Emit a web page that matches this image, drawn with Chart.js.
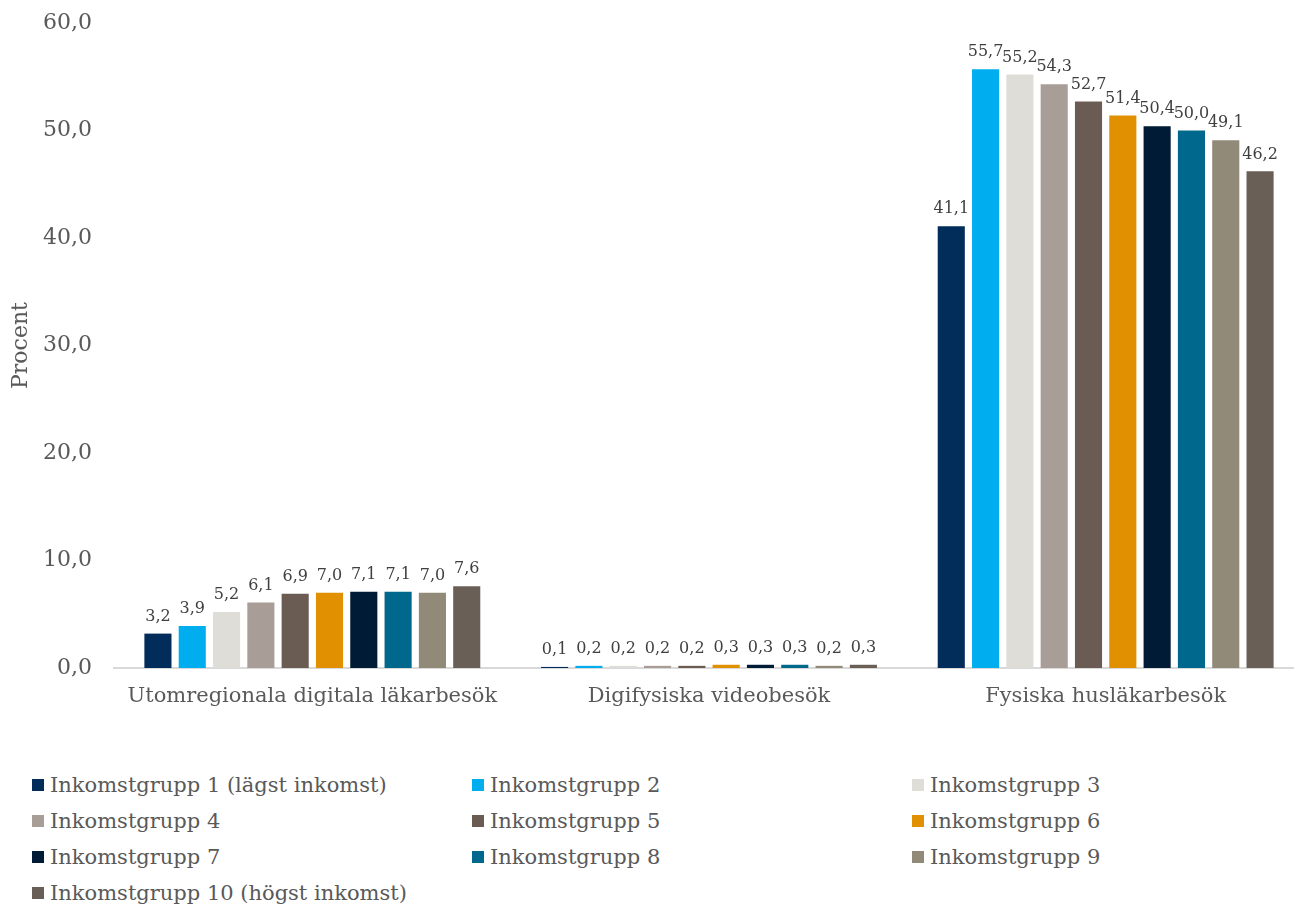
<!DOCTYPE html>
<html lang="sv">
<head>
<meta charset="utf-8">
<title>Läkarbesök per inkomstgrupp</title>
<script src="https://cdn.jsdelivr.net/npm/chart.js@4.4.1/dist/chart.umd.min.js"></script>
<style>
  html, body { margin: 0; padding: 0; background: #fff; overflow: hidden; }
  #wrap { position: relative; width: 1294px; height: 904px; overflow: hidden; }
  canvas { display: block; }
  #legend {
    position: absolute; left: 32px; top: 767px;
    display: grid; grid-template-columns: 440px 440px 440px;
    font-family: "DejaVu Serif", Georgia, serif; font-size: 21px; color: #595959;
  }
  #legend .item { height: 36px; display: flex; align-items: center; white-space: nowrap; }
  #legend .box { width: 12px; height: 12px; margin-right: 6px; flex: none; }
</style>
</head>
<body>
<div id="wrap">
  <canvas id="chart" width="1310" height="720"></canvas>
  <div id="legend"></div>
</div>
<script>
const categories = ['Utomregionala digitala läkarbesök', 'Digifysiska videobesök', 'Fysiska husläkarbesök']

const groupNames = [
  'Inkomstgrupp 1 (lägst inkomst)', 'Inkomstgrupp 2', 'Inkomstgrupp 3',
  'Inkomstgrupp 4', 'Inkomstgrupp 5', 'Inkomstgrupp 6',
  'Inkomstgrupp 7', 'Inkomstgrupp 8', 'Inkomstgrupp 9',
  'Inkomstgrupp 10 (högst inkomst)'
]

const groupColors = [
  '#022c5a', '#00aeef', '#deddd8', '#a89e97', '#6a5c52',
  '#e09000', '#001b36', '#00688d', '#928a78', '#6a5f57'
]

// one array per category, one value per income group
const utomregionala = [3.2, 3.9, 5.2, 6.1, 6.9, 7.0, 7.1, 7.1, 7.0, 7.6]
const digifysiska = [0.1, 0.2, 0.2, 0.2, 0.2, 0.3, 0.3, 0.3, 0.2, 0.3]
const fysiska = [41.1, 55.7, 55.2, 54.3, 52.7, 51.4, 50.4, 50.0, 49.1, 46.2]

const yTicks = [0, 10, 20, 30, 40, 50, 60]

const FONT = '"DejaVu Serif", Georgia, serif'
const TEXT = '#595959'

const fmt = v => v.toFixed(1).replace('.', ',')

const datasets = groupNames.map((name, i) => ({
  label: name,
  data: [utomregionala[i], digifysiska[i], fysiska[i]],
  backgroundColor: groupColors[i],
  barPercentage: 0.79,
  categoryPercentage: 0.865,
}))

// value labels above each bar
const valueLabels = {
  id: 'valueLabels',
  afterDatasetsDraw(chart) {
    const ctx = chart.ctx
    ctx.save()
    ctx.font = '16px ' + FONT
    ctx.fillStyle = '#404040'
    ctx.textAlign = 'center'
    ctx.textBaseline = 'bottom'
    chart.data.datasets.forEach((ds, i) => {
      chart.getDatasetMeta(i).data.forEach((bar, j) => {
        ctx.fillText(fmt(ds.data[j]), bar.x, bar.y - 9)
      })
    })
    ctx.restore()
  }
}

const chart = new Chart(document.getElementById('chart').getContext('2d'), {
  type: 'bar',
  data: { labels: categories, datasets: datasets },
  options: {
    responsive: false,
    animation: false,
    layout: { padding: { top: 23, right: 6, left: 0, bottom: 0 } },
    scales: {
      x: {
        grid: { display: false, drawTicks: false },
        border: { display: true, color: '#d9d9d9', width: 2 },
        ticks: { color: TEXT, font: { family: FONT, size: 21 }, padding: 16 },
        afterFit(scale) { scale.height = 52 },
      },
      y: {
        min: 0,
        max: 60,
        afterBuildTicks(scale) { scale.ticks = yTicks.map(v => ({ value: v })) },
        grid: { display: false, drawTicks: false },
        border: { display: false },
        ticks: {
          color: TEXT,
          font: { family: FONT, size: 22 },
          padding: 22,
          callback: v => fmt(v),
        },
        title: {
          display: true,
          text: 'Procent',
          color: TEXT,
          font: { family: FONT, size: 22 },
          padding: { top: 8, bottom: 0 },
        },
        afterFit(scale) {
          scale.width = 114
          // tick padding should only push labels sideways, not shrink the plot
          scale.paddingTop = 12
          scale.paddingBottom = 12
        },
      }
    },
    plugins: {
      legend: { display: false },
      tooltip: { enabled: false },
    }
  },
  plugins: [valueLabels]
})

// legend in three columns, built from the chart's datasets
const legendEl = document.getElementById('legend')
chart.data.datasets.forEach(ds => {
  const item = document.createElement('div')
  item.className = 'item'
  const box = document.createElement('span')
  box.className = 'box'
  box.style.background = ds.backgroundColor
  const label = document.createElement('span')
  label.textContent = ds.label
  item.appendChild(box)
  item.appendChild(label)
  legendEl.appendChild(item)
})
</script>
</body>
</html>
